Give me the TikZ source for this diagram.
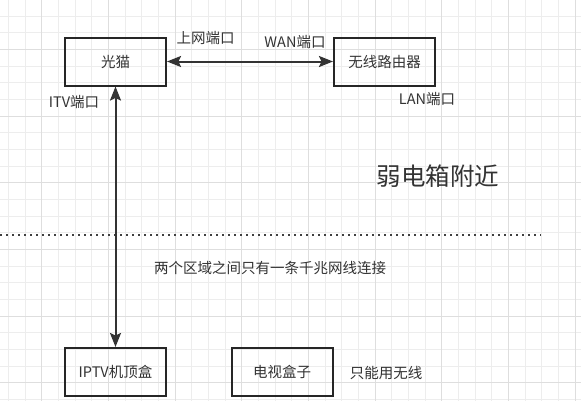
\documentclass[tikz,border=0pt]{standalone}
\usepackage{fontspec}
\setmainfont{Noto Sans CJK SC}
\usetikzlibrary{arrows.meta}
\definecolor{gridminor}{HTML}{EDEDED}
\definecolor{gridmajor}{HTML}{DEDEDE}
\definecolor{ink}{HTML}{333333}
\tikzset{
    box/.style={rectangle,draw=black!85,line width=2pt,minimum width=101pt,minimum height=48pt,text=ink,font=\fontsize{14.5}{17}\selectfont},
    lbl/.style={text=ink,inner sep=0pt,font=\fontsize{14.5}{17}\selectfont},
    link/.style={draw=black!80,line width=2pt,{Stealth[length=14pt,width=11pt,inset=2.5pt]}-{Stealth[length=14pt,width=11pt,inset=2.5pt]}},
    dotline/.style={draw=black!75,line width=2pt,dash pattern=on 2pt off 4pt}
}
\begin{document}
\begin{tikzpicture}[x=1pt,y=-1pt]
            \useasboundingbox[fill=white] (0,0) rectangle (581,400);
            % background grid
            \begin{scope}
                \clip (0,0) rectangle (581,400);
                \draw[gridminor,line width=0.8pt,step=16.667pt,shift={(8.33,16.2)}] (-20,-20) grid (600,420);
                \draw[gridmajor,line width=0.9pt,step=66.667pt,shift={(41.7,49.5)}] (-70,-70) grid (600,420);
            \end{scope}
            % upper area
            \node[box] (node1) at (115.5,61.5) {光猫};
            \node[box,xshift=269pt] (node2) at (node1) {无线路由器};
            \node[lbl,xshift=38.5pt,yshift=-2pt] (node5) at (node1.north east) {上网端口};
            \node[lbl,xshift=-38pt,yshift=-6pt] (node6) at (node2.north west) {WAN端口};
            \node[lbl,xshift=42.5pt,yshift=-13pt] (node7) at (node2.south) {LAN端口};
            \node[lbl,xshift=10pt,yshift=-15.5pt] (node8) at (node1.south west) {ITV端口};
            \node[text=ink,inner sep=0pt,font=\fontsize{24.5}{29}\selectfont] (node9) at (438,176) {弱电箱附近};
            \draw[dotline] (0,235) -- (541,235);
            % lower area
            \node[box,yshift=-310.5pt] (node3) at (node1) {IPTV机顶盒};
            \node[box,xshift=166.5pt] (node4) at (node3) {电视盒子};
            \node[lbl,xshift=52.5pt,yshift=-1pt] (node10) at (node4.east) {只能用无线};
            \node[lbl] (node11) at (270,268) {两个区域之间只有一条千兆网线连接};
            % cables
            \draw[link] (node1.east) -- (node2.west);
            \draw[link] (node1.south) -- (node3.north);
        \end{tikzpicture}
\end{document}
